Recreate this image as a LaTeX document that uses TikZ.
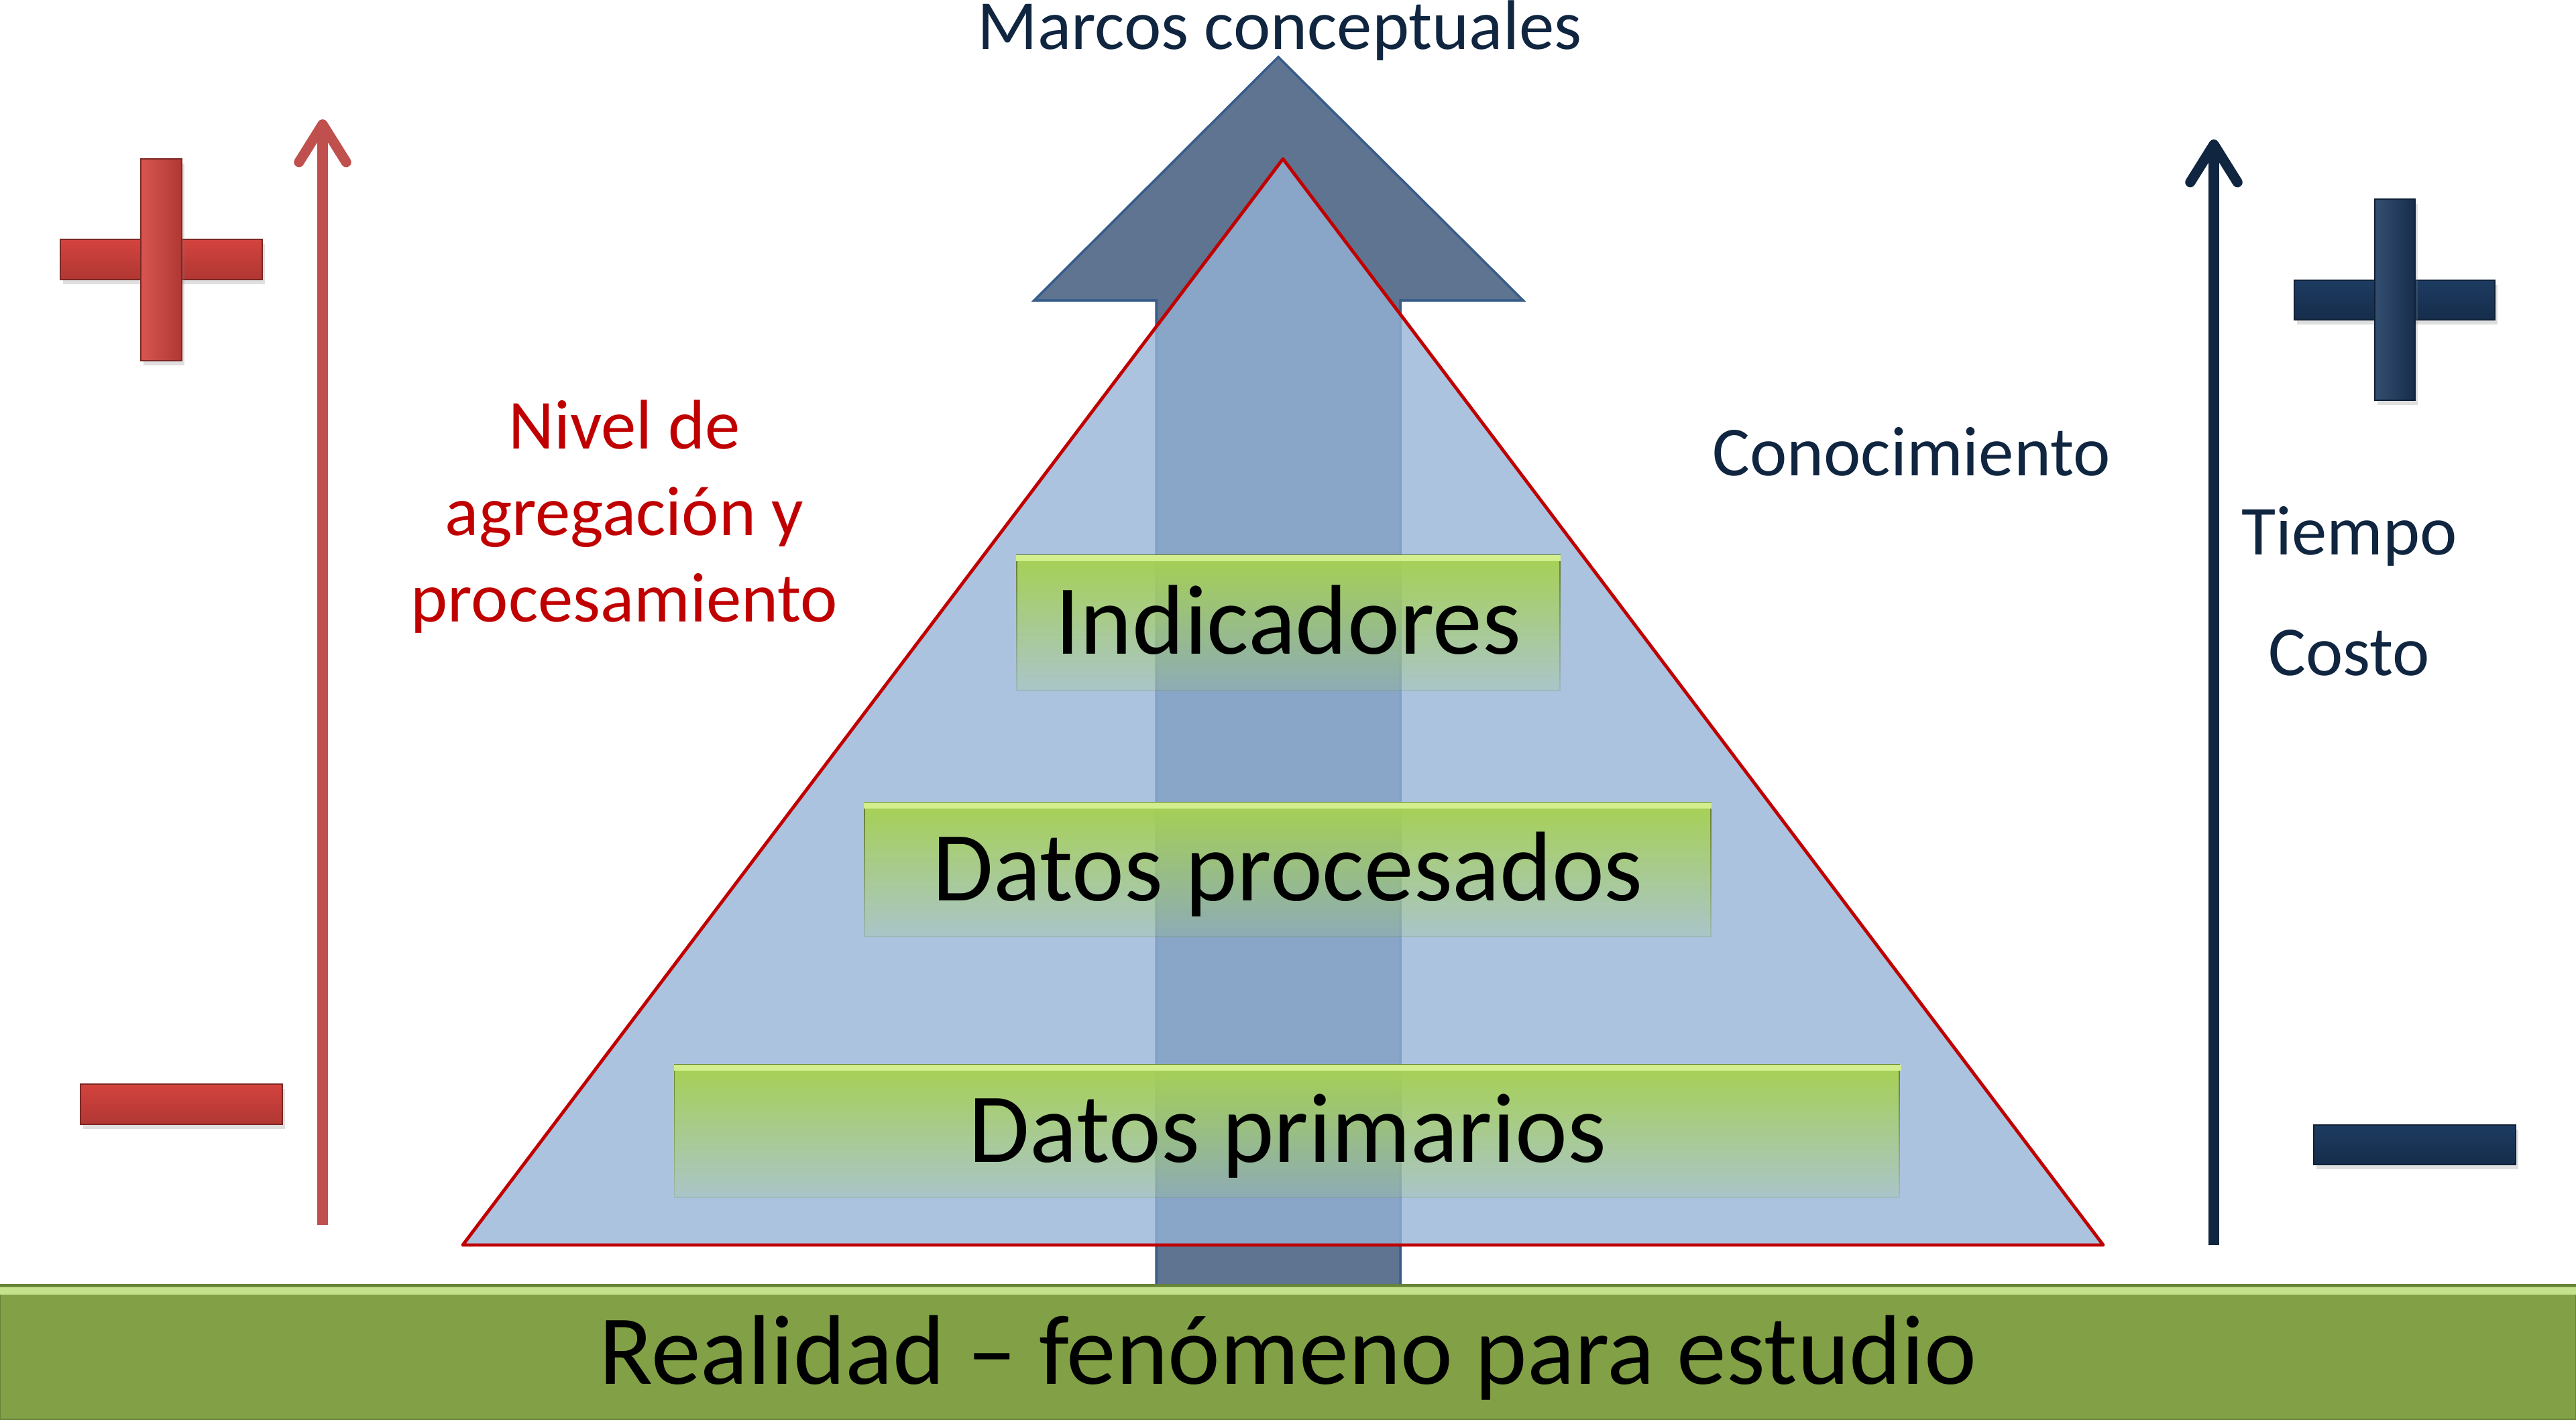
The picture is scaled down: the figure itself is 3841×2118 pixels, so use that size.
\documentclass[tikz,border=0pt]{standalone}
\usepackage{fontspec}
\setmainfont{Carlito}
\usepackage{xcolor}
\usetikzlibrary{arrows.meta,fadings,shadows}

\definecolor{navyink}{HTML}{10253F}
\definecolor{redink}{HTML}{C00000}
\definecolor{redaxis}{HTML}{C0504D}
\definecolor{slateblue}{HTML}{5F7491}
\definecolor{slateedge}{HTML}{385D8A}
\definecolor{pyrblue}{HTML}{95B3D7}
\definecolor{lvlgreen}{HTML}{A6D152}
\definecolor{lvlhi}{HTML}{D2EE8E}
\definecolor{basegreen}{HTML}{82A046}
\definecolor{basehi}{HTML}{C4E28B}
\definecolor{baseedge}{HTML}{66823A}
\definecolor{plusred}{HTML}{D4433E}
\definecolor{plusreddk}{HTML}{B03733}
\definecolor{plusnavy}{HTML}{1D3B61}
\definecolor{plusnavydk}{HTML}{162D4B}

\tikzfading[name=lvlfade, top color=transparent!0, middle color=transparent!20, bottom color=transparent!85]

\newcommand{\bigfont}{\fontsize{42}{50}\selectfont}
\newcommand{\smallfont}{\fontsize{29.8}{36.6}\selectfont}

\begin{document}
\begin{tikzpicture}[x=0.01cm, y=-0.01cm,
  lvlbox/.style={draw=lvlgreen!60!black, line width=0.5pt, fill=lvlgreen,
    path fading=lvlfade, text=black, font=\bigfont,
    text height=26.5pt, text depth=0pt, inner sep=0pt},
  basebar/.style={draw=baseedge, line width=1pt, fill=basegreen, text=black,
    font=\bigfont, text height=26.5pt, text depth=0pt, inner sep=0pt},
  navytxt/.style={text=navyink, font=\smallfont, inner sep=0pt},
  redtxt/.style={text=redink, font=\smallfont, inner sep=0pt, align=center},
  redbar/.style={draw=plusreddk!70!black, line width=0.6pt, top color=plusred,
    bottom color=plusreddk, drop shadow={opacity=0.25, shadow xshift=1pt, shadow yshift=-2pt}},
  redpost/.style={draw=plusreddk!70!black, line width=0.6pt, left color=plusred!90!white,
    right color=plusreddk, drop shadow={opacity=0.25, shadow xshift=1pt, shadow yshift=-2pt}},
  navybar/.style={draw=plusnavydk!70!black, line width=0.6pt, top color=plusnavy,
    bottom color=plusnavydk, drop shadow={opacity=0.25, shadow xshift=1pt, shadow yshift=-2pt}},
  navypost/.style={draw=plusnavydk!70!black, line width=0.6pt, left color=plusnavy!90!white,
    right color=plusnavydk, drop shadow={opacity=0.25, shadow xshift=1pt, shadow yshift=-2pt}},
  axis/.style={line width=4.3pt, -{Straight Barb[length=16pt, width=20pt, round]}}
]
  \useasboundingbox (0,0) rectangle (3841,2118);

  % big arrow behind the pyramid
  \draw[fill=slateblue, draw=slateedge, line width=1pt]
    (1906,85) -- (2271,448) -- (2088,448) -- (2088,1917) -- (1724,1917)
    -- (1724,448) -- (1542,448) -- cycle;

  % pyramid
  \draw[fill=pyrblue, fill opacity=0.79, draw=redink, line width=1.4pt, line join=round]
    (1913,237) -- (3136,1857) -- (690,1857) -- cycle;

  \node[lvlbox, minimum width=8.10cm, minimum height=2.02cm] (ind) at (1921,929) {Indicadores};
  \node[lvlbox, minimum width=12.61cm, minimum height=2.00cm] (proc) at (1920,1297) {Datos procesados};
  \node[lvlbox, minimum width=18.27cm, minimum height=1.98cm] (prim) at (1920,1687) {Datos primarios};
  \foreach \b in {ind,proc,prim}
    \draw[lvlhi, line width=2.5pt] ([yshift=-1.6pt]\b.north west) -- ([yshift=-1.6pt]\b.north east);

  % base bar
  \node[basebar, minimum width=38.41cm, minimum height=2.01cm] (real) at (1920.5,2017.5)
    {Realidad – fenómeno para estudio};
  \draw[basehi, line width=3pt] ([yshift=-3pt]real.north west) -- ([yshift=-3pt]real.north east);

  % left axis and signs
  \coordinate (redfoot) at (481,1827);
  \coordinate (redhead) at (481,178);
  \draw[axis, redaxis] (redfoot) -- (redhead);
  \path[redbar] (90,357) rectangle (391,417);
  \path[redpost] (210,237) rectangle (271,538);
  \path[redbar] (120,1617) rectangle (421,1677);

  % right axis and signs
  \coordinate (navyfoot) at (3301,1857);
  \coordinate (navyhead) at (3301,208);
  \draw[axis, navyink] (navyfoot) -- (navyhead);
  \path[navybar] (3421,418) rectangle (3720,477);
  \path[navypost] (3541,297) rectangle (3601,597);
  \path[navybar] (3450,1678) rectangle (3751,1737);

  % labels
  \node[navytxt, anchor=base] (marcos) at (1908,73) {Marcos conceptuales};
  \node[redtxt, anchor=base] (nivel) at (931,927) {Nivel de\\agregación y\\procesamiento};
  \node[navytxt, anchor=base] (conoc) at (2850,709) {Conocimiento};
  \node[navytxt, anchor=base] (tiempo) at (3503,827) {Tiempo};
  \node[navytxt, anchor=base] (costo) at (3503,1007) {Costo};
\end{tikzpicture}
\end{document}
